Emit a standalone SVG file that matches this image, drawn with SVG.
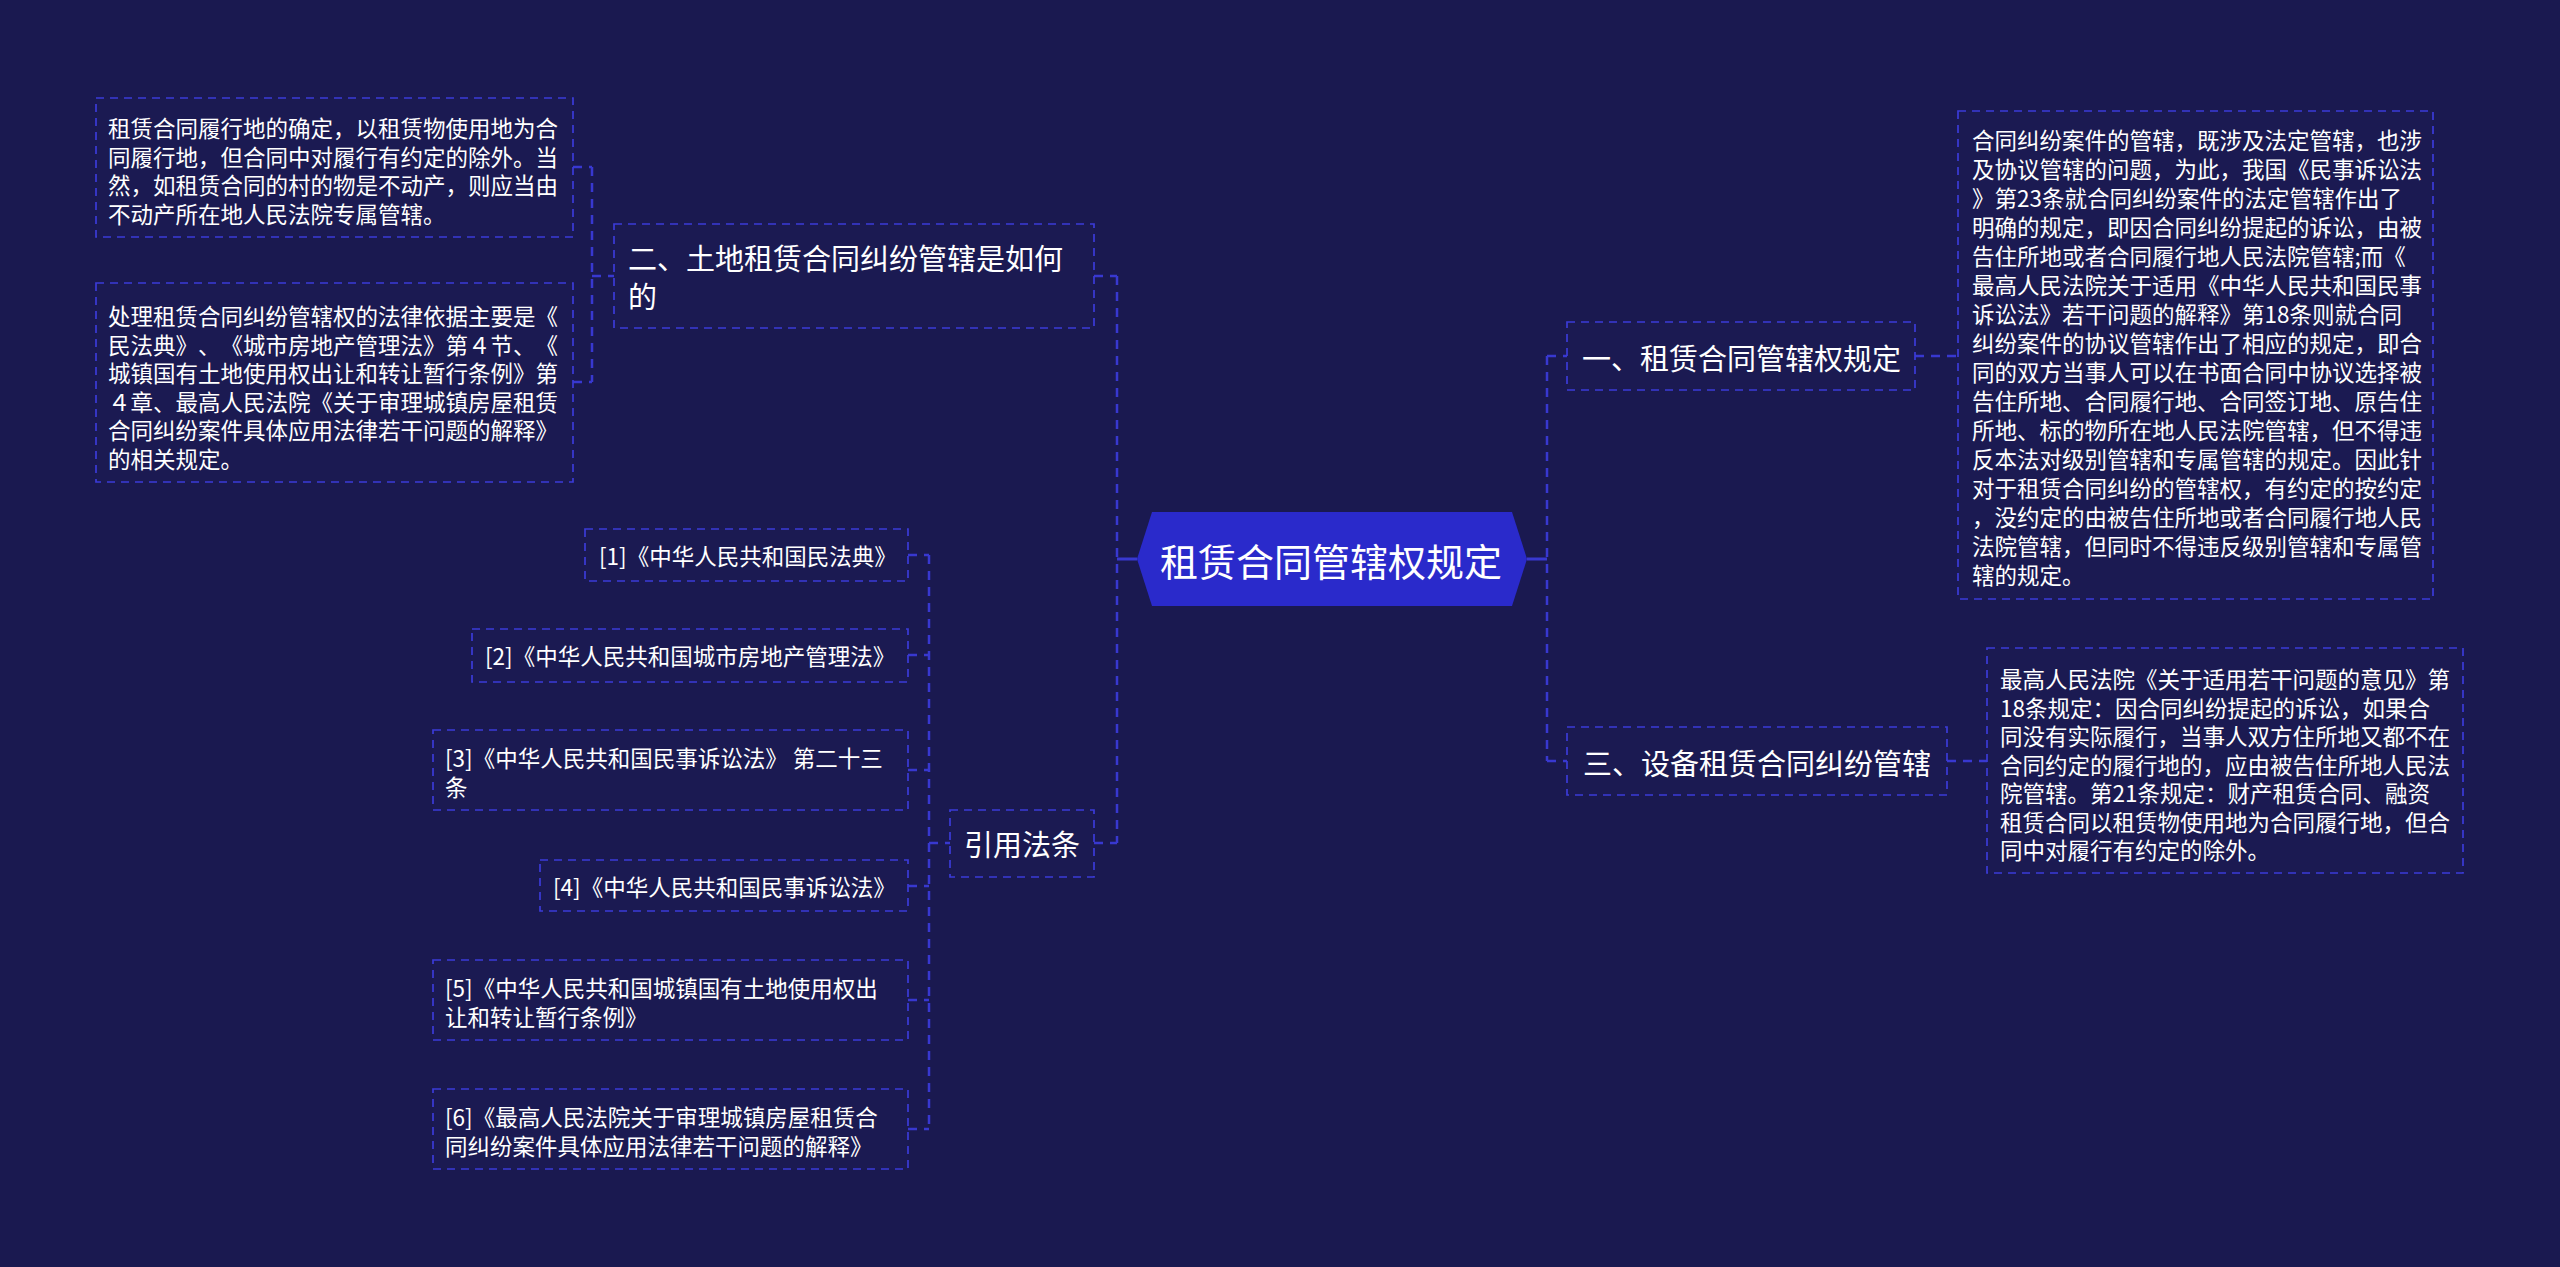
<svg xmlns="http://www.w3.org/2000/svg" width="2560" height="1267" viewBox="0 0 2560 1267">
<style>
text{font-family:"Noto Sans CJK SC","Noto Sans",sans-serif;fill:#ffffff;dominant-baseline:central;text-spacing-trim:space-all;font-feature-settings:"halt" 0,"chws" 0}
.d{font-size:22.5px}
.n{font-size:29px}
.c{font-size:38px}
.box{fill:#1b1a52;stroke:#3b3bd8;stroke-width:1.7;stroke-dasharray:8 6}
.con{fill:none;stroke:#3838d0;stroke-width:2.5;stroke-dasharray:9 7}
.solid{fill:none;stroke:#3838d0;stroke-width:3}
</style>
<rect x="0" y="0" width="2560" height="1267" fill="#1a1950"/>
<g id="connectors">
<path class="solid" d="M1117 559H1137M1527 559H1547"/>
<path class="con" d="M1117 276V843M1094 276H1117M1094 843H1117"/>
<path class="con" d="M592 167V382M592 276H614M573 167H592M573 382H592"/>
<path class="con" d="M929 555V1129M929 843H950M908 555H929M908 655H929M908 770H929M908 886H929M908 1000H929M908 1129H929"/>
<path class="con" d="M1547 356V761M1547 356H1567M1547 761H1567M1915 356H1958M1947 761H1987"/>
</g>
<g id="center">
<polygon points="1137,559 1152,512 1512,512 1527,559 1512,606 1152,606" fill="#2a2acb"/>
<text class="c" x="1331" y="559" text-anchor="middle">租赁合同管辖权规定</text>
</g>
<g id="n-er">
<rect class="box" x="614" y="224" width="480" height="104"/>
<text class="n" x="628" y="257">二、土地租赁合同纠纷管辖是如何</text>
<text class="n" x="628" y="295">的</text>
</g>
<g id="d-left1">
<rect class="box" x="96" y="98" width="477" height="139"/>
<text class="d" x="108" y="127">租赁合同履行地的确定，以租赁物使用地为合</text>
<text class="d" x="108" y="155.5">同履行地，但合同中对履行有约定的除外。当</text>
<text class="d" x="108" y="184">然，如租赁合同的村的物是不动产，则应当由</text>
<text class="d" x="108" y="212.5">不动产所在地人民法院专属管辖。</text>
</g>
<g id="d-left2">
<rect class="box" x="96" y="283" width="477" height="199"/>
<text class="d" x="108" y="315">处理租赁合同纠纷管辖权的法律依据主要是《</text>
<text class="d" x="108" y="343.5">民法典》、《城市房地产管理法》第４节、《</text>
<text class="d" x="108" y="372">城镇国有土地使用权出让和转让暂行条例》第</text>
<text class="d" x="108" y="400.5">４章、最高人民法院《关于审理城镇房屋租赁</text>
<text class="d" x="108" y="429">合同纠纷案件具体应用法律若干问题的解释》</text>
<text class="d" x="108" y="457.5">的相关规定。</text>
</g>
<g id="n-yinyong">
<rect class="box" x="950" y="810" width="144" height="67"/>
<text class="n" x="1022" y="843" text-anchor="middle">引用法条</text>
</g>
<g id="ref1">
<rect class="box" x="585" y="529" width="323" height="52"/>
<text class="d" x="599" y="555">[1]《中华人民共和国民法典》</text>
</g>
<g id="ref2">
<rect class="box" x="472" y="629" width="436" height="53"/>
<text class="d" x="485" y="655">[2]《中华人民共和国城市房地产管理法》</text>
</g>
<g id="ref3">
<rect class="box" x="433" y="730" width="475" height="80"/>
<text class="d" x="445" y="757">[3]《中华人民共和国民事诉讼法》 第二十三</text>
<text class="d" x="445" y="786">条</text>
</g>
<g id="ref4">
<rect class="box" x="540" y="860" width="368" height="51"/>
<text class="d" x="553" y="886">[4]《中华人民共和国民事诉讼法》</text>
</g>
<g id="ref5">
<rect class="box" x="433" y="960" width="475" height="80"/>
<text class="d" x="445" y="987">[5]《中华人民共和国城镇国有土地使用权出</text>
<text class="d" x="445" y="1016">让和转让暂行条例》</text>
</g>
<g id="ref6">
<rect class="box" x="433" y="1089" width="475" height="80"/>
<text class="d" x="445" y="1116">[6]《最高人民法院关于审理城镇房屋租赁合</text>
<text class="d" x="445" y="1145">同纠纷案件具体应用法律若干问题的解释》</text>
</g>
<g id="n-yi">
<rect class="box" x="1567" y="322" width="348" height="68"/>
<text class="n" x="1582" y="357">一、租赁合同管辖权规定</text>
</g>
<g id="d-right1">
<rect class="box" x="1958" y="111" width="475" height="488"/>
<text class="d" x="1972" y="139">合同纠纷案件的管辖，既涉及法定管辖，也涉</text>
<text class="d" x="1972" y="168">及协议管辖的问题，为此，我国《民事诉讼法</text>
<text class="d" x="1972" y="197">》第23条就合同纠纷案件的法定管辖作出了</text>
<text class="d" x="1972" y="226">明确的规定，即因合同纠纷提起的诉讼，由被</text>
<text class="d" x="1972" y="255">告住所地或者合同履行地人民法院管辖;而《</text>
<text class="d" x="1972" y="284">最高人民法院关于适用《中华人民共和国民事</text>
<text class="d" x="1972" y="313">诉讼法》若干问题的解释》第18条则就合同</text>
<text class="d" x="1972" y="342">纠纷案件的协议管辖作出了相应的规定，即合</text>
<text class="d" x="1972" y="371">同的双方当事人可以在书面合同中协议选择被</text>
<text class="d" x="1972" y="400">告住所地、合同履行地、合同签订地、原告住</text>
<text class="d" x="1972" y="429">所地、标的物所在地人民法院管辖，但不得违</text>
<text class="d" x="1972" y="458">反本法对级别管辖和专属管辖的规定。因此针</text>
<text class="d" x="1972" y="487">对于租赁合同纠纷的管辖权，有约定的按约定</text>
<text class="d" x="1972" y="516">，没约定的由被告住所地或者合同履行地人民</text>
<text class="d" x="1972" y="545">法院管辖，但同时不得违反级别管辖和专属管</text>
<text class="d" x="1972" y="574">辖的规定。</text>
</g>
<g id="n-san">
<rect class="box" x="1567" y="727" width="380" height="68"/>
<text class="n" x="1583" y="762">三、设备租赁合同纠纷管辖</text>
</g>
<g id="d-right3">
<rect class="box" x="1987" y="648" width="476" height="225"/>
<text class="d" x="2000" y="678">最高人民法院《关于适用若干问题的意见》第</text>
<text class="d" x="2000" y="706.5">18条规定：因合同纠纷提起的诉讼，如果合</text>
<text class="d" x="2000" y="735">同没有实际履行，当事人双方住所地又都不在</text>
<text class="d" x="2000" y="763.5">合同约定的履行地的，应由被告住所地人民法</text>
<text class="d" x="2000" y="792">院管辖。第21条规定：财产租赁合同、融资</text>
<text class="d" x="2000" y="820.5">租赁合同以租赁物使用地为合同履行地，但合</text>
<text class="d" x="2000" y="849">同中对履行有约定的除外。</text>
</g>
</svg>
